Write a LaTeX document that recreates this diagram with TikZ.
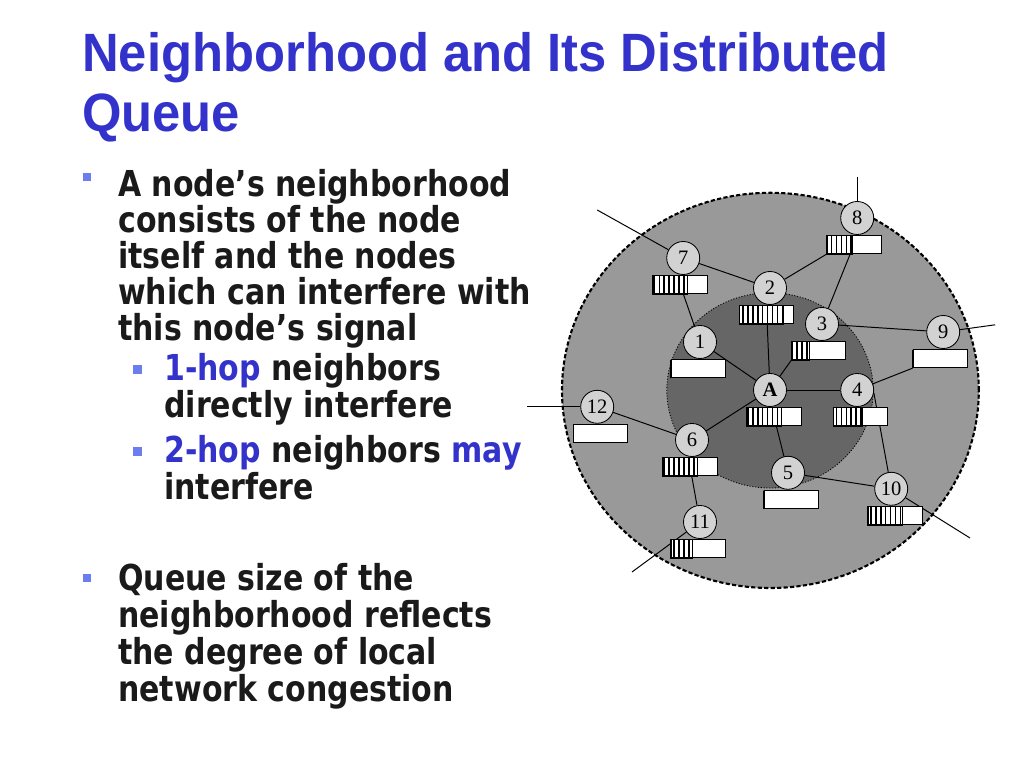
\documentclass[tikz,border=0pt]{standalone}
\usepackage{fontspec}
\setmainfont{Liberation Serif}
\newfontfamily\titlefont[FakeStretch=0.94]{Liberation Sans}
\newfontfamily\bodyfont[FakeStretch=0.84]{DejaVu Sans}
\usetikzlibrary{positioning,calc,patterns.meta,backgrounds}
\definecolor{titleblue}{RGB}{51,51,204}
\definecolor{bulletblue}{RGB}{108,125,238}
\definecolor{textblack}{RGB}{26,26,26}
\definecolor{ringgray}{RGB}{153,153,153}
\definecolor{coregray}{RGB}{102,102,102}
\definecolor{nodegray}{RGB}{210,210,210}

\begin{document}
\begin{tikzpicture}[
    station/.style={circle, draw=black, line width=0.6pt, fill=nodegray, minimum size=0.825cm, inner sep=0pt, font=\fontsize{14.6}{14.6}\selectfont},
    queue/.style={rectangle, draw=black, line width=0.6pt, fill=white, minimum width=1.35cm, minimum height=0.46cm, inner sep=0pt},
    hatch/.style={pattern={Lines[angle=90, distance=3.5pt, line width=1.1pt]}, line width=0.6pt},
    link/.style={black, line width=0.7pt},
    outerrim/.style={line width=1.5pt, dash pattern=on 3pt off 1.6pt},
    innerrim/.style={line width=0.6pt, dash pattern=on 0.8pt off 1.2pt},
    title/.style={font=\titlefont\bfseries\fontsize{38.4}{38.4}\selectfont, text=titleblue, anchor=base west, inner sep=0pt},
    body/.style={font=\bodyfont\bfseries\fontsize{25.4}{25.4}\selectfont, text=textblack, anchor=base west, inner sep=0pt},
    bullet/.style={rectangle, fill=bulletblue, minimum size=0.21cm, inner sep=0pt}
]
\useasboundingbox (0,0) rectangle (25.6,19.2);

% Title
\node[title] (t1) at (2.05, 17.40) {Neighborhood and Its Distributed};
\node[title] (t2) at (2.05, 15.90) {Queue};

% First bullet
\node[bullet] (m1) at (2.175, 14.775) {};
\foreach \line [count=\i] in {A node’s neighborhood, consists of the node, itself and the nodes, which can interfere with, this node’s signal}
    \node[body] (p\i) at (2.95, {14.275-0.9*(\i-1)}) {\line};

% Sub bullets
\node[bullet] (s1) at (3.44, 9.96) {};
\node[body] (h1) at (4.10, 9.675) {\textcolor{titleblue}{1-hop} neighbors};
\node[body] (h2) at (4.10, 8.75) {directly interfere};
\node[bullet] (s2) at (3.44, 7.91) {};
\node[body] (h3) at (4.10, 7.625) {\textcolor{titleblue}{2-hop} neighbors \textcolor{titleblue}{may}};
\node[body] (h4) at (4.10, 6.70) {interfere};

% Second bullet
\node[bullet] (m2) at (2.175, 4.75) {};
\foreach \line [count=\i] in {Queue size of the, neighborhood reflects, the degree of local, network congestion}
    \node[body] (q\i) at (2.95, {4.425-0.925*(\i-1)}) {\line};

% Stations
\node[station] (n8) at (21.43, 13.75) {8};
\node[station] (n7) at (17.08, 12.75) {7};
\node[station] (n2) at (19.25, 12.00) {2};
\node[station] (n3) at (20.55, 11.10) {3};
\node[station] (n9) at (23.58, 10.90) {9};
\node[station] (n1) at (17.50, 10.65) {1};
\node[station, font=\bfseries\fontsize{14.6}{14.6}\selectfont] (nA) at (19.25, 9.45) {A};
\node[station] (n4) at (21.43, 9.45) {4};
\node[station] (n12) at (14.93, 9.03) {12};
\node[station] (n6) at (17.30, 8.20) {6};
\node[station] (n5) at (19.70, 7.38) {5};
\node[station] (n10) at (22.28, 6.98) {10};
\node[station] (n11) at (17.50, 6.15) {11};

% Queues under the stations
\foreach \n/\dx/\q in {8/-0.08cm/0.65, 7/-0.08cm/0.875, 2/-0.08cm/1.10, 3/-0.08cm/0.45,
    1/-0.05cm/0, 9/-0.08cm/0, A/0.1cm/0.875, 4/0.08cm/0.725, 12/0.08cm/0,
    6/-0.05cm/0.875, 5/0.08cm/0, 10/0.1cm/0.875, 11/-0.05cm/0.55} {
    \node[queue, below=0pt of n\n, xshift=\dx] (b\n) {};
    \draw[hatch] (b\n.south west) rectangle ++(\q, 0.46);
}

% Free ends of outgoing links
\coordinate (e8) at (21.43, 14.78);
\coordinate (e7) at (14.93, 13.95);
\coordinate (e9) at (24.88, 11.08);
\coordinate (e12) at (13.18, 9.03);
\coordinate (e10) at (24.25, 5.75);
\coordinate (e11) at (15.80, 4.90);

\begin{scope}[on background layer]
% 2-hop and 1-hop regions
\fill[ringgray] (19.26, 9.44) ellipse [x radius=5.21, y radius=4.94];
\draw[outerrim] (19.26, 9.44) ellipse [x radius=5.21, y radius=4.94];
\fill[coregray] (19.25, 9.44) ellipse [x radius=2.58, y radius=2.44];
\draw[innerrim] (19.25, 9.44) ellipse [x radius=2.58, y radius=2.44];

% Links
\draw[link] (n7) -- (n2);
\draw[link] (n2) -- (b8.south west);
\draw[link] (n3) -- (b8);
\draw[link] (b7) -- (n1);
\draw[link] (b2) -- (nA);
\draw[link] (nA) -- (b3.south west);
\draw[link] (n3) -- (n9);
\draw[link] (n1) -- (nA);
\draw[link] (nA) -- (n4);
\draw[link] (b9.south west) -- (n4);
\draw[link] (nA) -- (n6);
\draw[link] (bA) -- (n5);
\draw[link] (n12) -- (n6);
\draw[link] (b6) -- (n11);
\draw[link] (n5) -- (n10);
\draw[link] (n4.-10) -- (n10.100);
\draw[link] (n8) -- (e8);
\draw[link] (n7) -- (e7);
\draw[link] (n9) -- (e9);
\draw[link] (n12) -- (e12);
\draw[link] (n10) -- (e10);
\draw[link] (n11) -- (e11);
\end{scope}

\end{tikzpicture}
\end{document}
